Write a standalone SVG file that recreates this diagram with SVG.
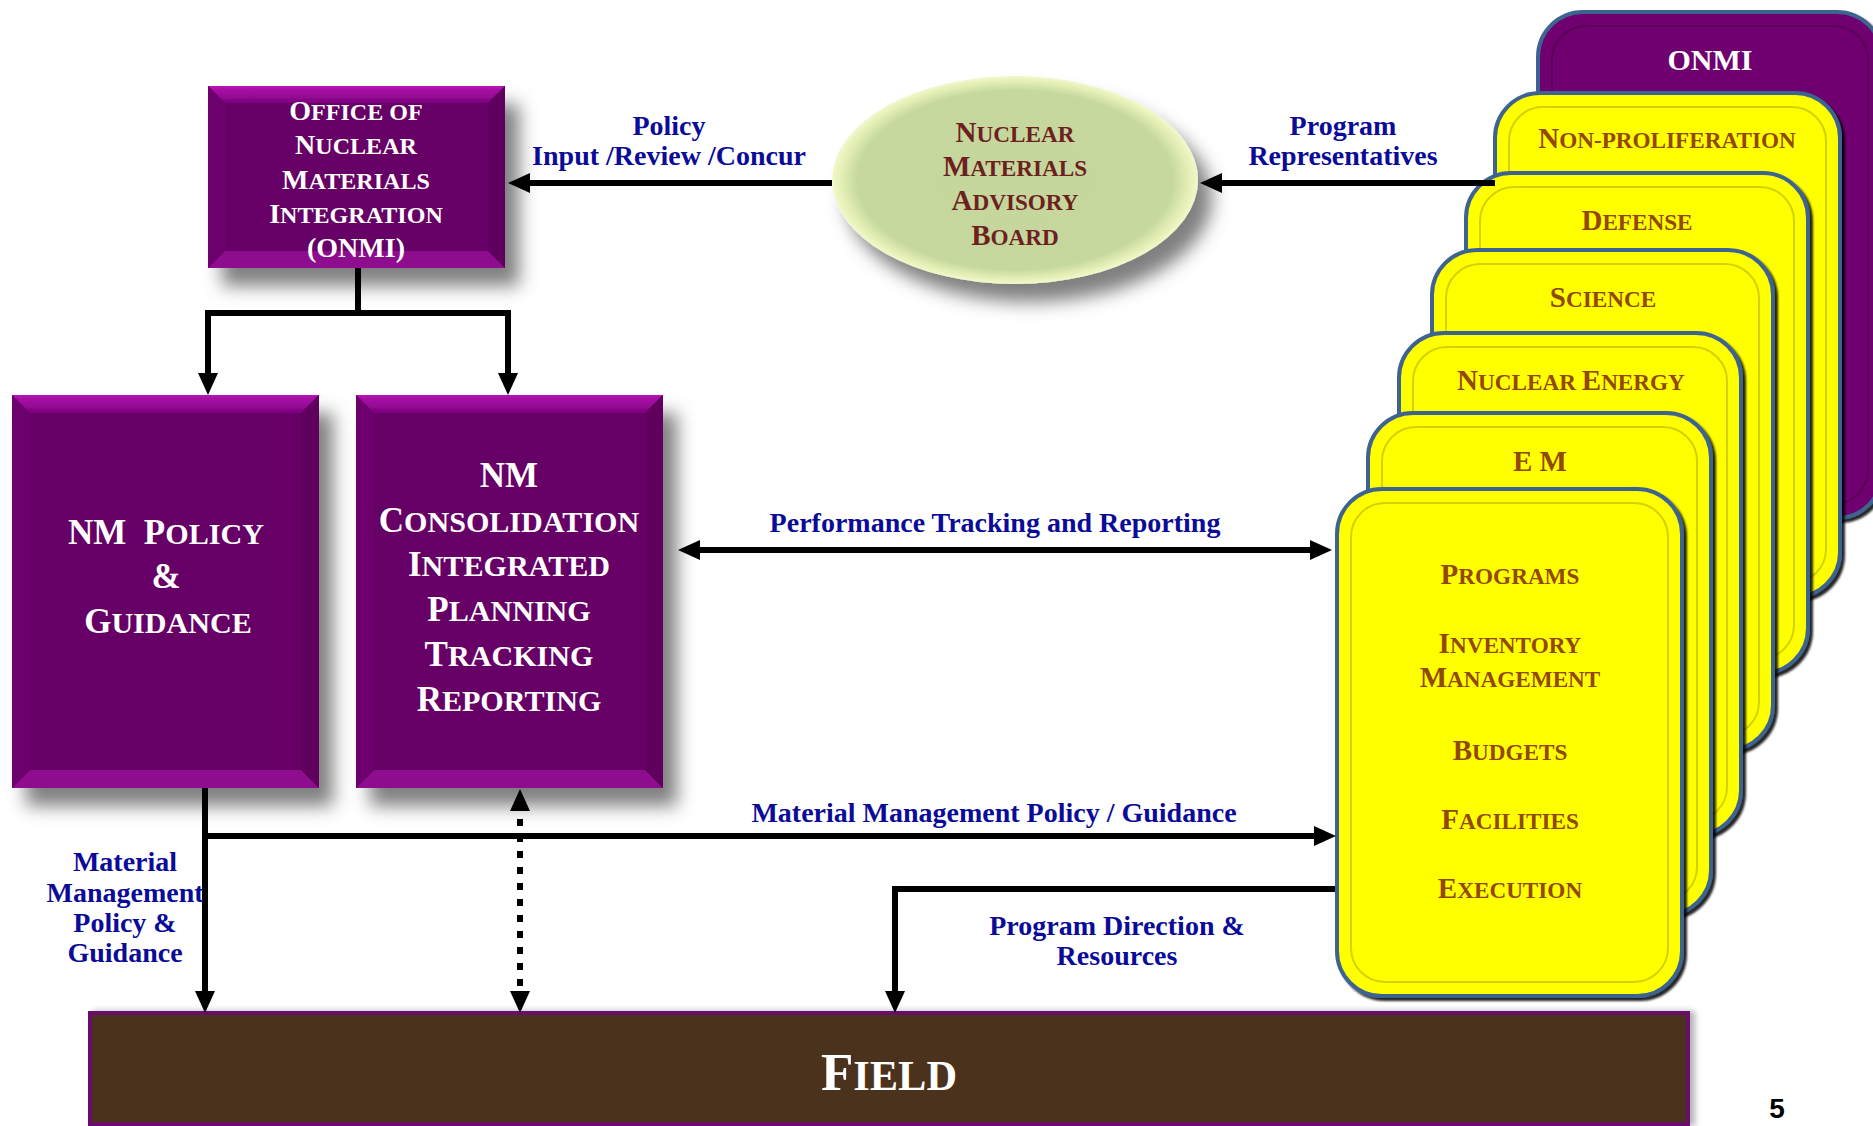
<svg xmlns="http://www.w3.org/2000/svg" width="1873" height="1126" viewBox="0 0 1873 1126">
<defs>
<style>
.w{font-family:"Liberation Serif","Times New Roman",serif;font-weight:bold;fill:#ffffff;text-anchor:middle}
.br{font-family:"Liberation Serif","Times New Roman",serif;font-weight:bold;fill:#924800;text-anchor:middle;font-size:29px}
.eb{font-family:"Liberation Serif","Times New Roman",serif;font-weight:bold;fill:#6e1f1f;text-anchor:middle;font-size:29px}
.lb{font-family:"Liberation Serif","Times New Roman",serif;font-weight:bold;fill:#0b0b99;text-anchor:middle;font-size:28px}
.s{font-size:80%}
.s2{font-size:86%}
.ln{fill:none;stroke:#000;stroke-width:6;stroke-linejoin:miter}
.bt{fill:url(#topg)}
.bb{fill:#8e0a8e}
.bl{fill:#6c006c}
.bR{fill:#5e005e}
.bi{fill:#660066}
.card{fill:#ffff00;stroke:#3e6390;stroke-width:4}
.cin{fill:none;stroke:#d2d200;stroke-width:2}
</style>
<linearGradient id="topg" x1="0" y1="0" x2="0" y2="1">
<stop offset="0" stop-color="#b414b4"/>
<stop offset="1" stop-color="#7e027e"/>
</linearGradient>
<radialGradient id="ellg" cx="0.5" cy="0.5" r="0.5">
<stop offset="0" stop-color="#c4d69b"/>
<stop offset="0.86" stop-color="#c6d89e"/>
<stop offset="0.95" stop-color="#e4efb5"/>
<stop offset="1" stop-color="#f2f8cc"/>
</radialGradient>
<filter id="sh" x="-20%" y="-20%" width="150%" height="150%">
<feDropShadow dx="14" dy="18" stdDeviation="9" flood-color="#000" flood-opacity="0.5"/>
</filter>
<filter id="csh" x="-10%" y="-10%" width="125%" height="125%">
<feDropShadow dx="3" dy="3" stdDeviation="1.3" flood-color="#000" flood-opacity="0.85"/>
</filter>
<filter id="fsh" x="-5%" y="-20%" width="110%" height="140%">
<feDropShadow dx="5" dy="0" stdDeviation="3" flood-color="#000" flood-opacity="0.3"/>
</filter>
<marker id="ah" viewBox="0 0 22 20" refX="8" refY="10" markerWidth="22" markerHeight="20" markerUnits="userSpaceOnUse" orient="auto-start-reverse">
<path d="M0,0 L22,10 L0,20 z" fill="#000"/>
</marker>
</defs>

<rect width="1873" height="1126" fill="#ffffff"/>

<g id="node-onmi-office">
<g filter="url(#sh)">
<rect x="208" y="86" width="297" height="182" fill="#7a007a"/>
<polygon class="bt" points="208,86 505,86 488,103 225,103"/>
<polygon class="bb" points="208,268 505,268 488,251 225,251"/>
<polygon class="bl" points="208,86 225,103 225,251 208,268"/>
<polygon class="bR" points="505,86 488,103 488,251 505,268"/>
<rect class="bi" x="225" y="103" width="263" height="148"/>
</g>
<text class="w" font-size="28" x="356" y="120">O<tspan class="s2">FFICE OF</tspan></text>
<text class="w" font-size="28" x="356" y="154">N<tspan class="s2">UCLEAR</tspan></text>
<text class="w" font-size="28" x="356" y="189">M<tspan class="s2">ATERIALS</tspan></text>
<text class="w" font-size="28" x="356" y="223">I<tspan class="s2">NTEGRATION</tspan></text>
<text class="w" font-size="28" x="356" y="257">(ONMI)</text>
</g>

<g id="node-nmab">
<ellipse cx="1015" cy="180" rx="183" ry="104" fill="url(#ellg)" filter="url(#sh)"/>
<text class="eb" x="1015" y="142">N<tspan class="s">UCLEAR</tspan></text>
<text class="eb" x="1015" y="176">M<tspan class="s">ATERIALS</tspan></text>
<text class="eb" x="1015" y="210">A<tspan class="s">DVISORY</tspan></text>
<text class="eb" x="1015" y="245">B<tspan class="s">OARD</tspan></text>
</g>

<g id="node-nm-policy">
<g filter="url(#sh)">
<rect x="12" y="395" width="307" height="393" fill="#7a007a"/>
<polygon class="bt" points="12,395 319,395 301,413 30,413"/>
<polygon class="bb" points="12,788 319,788 301,770 30,770"/>
<polygon class="bl" points="12,395 30,413 30,770 12,788"/>
<polygon class="bR" points="319,395 301,413 301,770 319,788"/>
<rect class="bi" x="30" y="413" width="271" height="357"/>
</g>
<text class="w" font-size="35" x="166" y="544">NM&#160; P<tspan class="s2">OLICY</tspan></text>
<text class="w" font-size="35" x="166" y="588">&amp;</text>
<text class="w" font-size="35" x="168" y="633">G<tspan class="s2">UIDANCE</tspan></text>
</g>

<g id="node-nm-consolidation">
<g filter="url(#sh)">
<rect x="356" y="395" width="307" height="393" fill="#7a007a"/>
<polygon class="bt" points="356,395 663,395 645,413 374,413"/>
<polygon class="bb" points="356,788 663,788 645,770 374,770"/>
<polygon class="bl" points="356,395 374,413 374,770 356,788"/>
<polygon class="bR" points="663,395 645,413 645,770 663,788"/>
<rect class="bi" x="374" y="413" width="271" height="357"/>
</g>
<text class="w" font-size="35" x="509" y="487">NM</text>
<text class="w" font-size="35" x="509" y="532">C<tspan class="s2">ONSOLIDATION</tspan></text>
<text class="w" font-size="35" x="509" y="576">I<tspan class="s2">NTEGRATED</tspan></text>
<text class="w" font-size="35" x="509" y="621">P<tspan class="s2">LANNING</tspan></text>
<text class="w" font-size="35" x="509" y="666">T<tspan class="s2">RACKING</tspan></text>
<text class="w" font-size="35" x="509" y="711">R<tspan class="s2">EPORTING</tspan></text>
</g>

<g id="node-card-onmi">
<rect x="1538" y="12" width="344" height="506" rx="45" fill="#700070" stroke="#3e6390" stroke-width="4" filter="url(#csh)"/>
<rect x="1552" y="26" width="316" height="478" rx="34" fill="none" stroke="#5a005a" stroke-width="2"/>
<text class="w" font-size="30" x="1710" y="70">ONMI</text>
</g>

<g id="node-card-nonproliferation">
<rect class="card" x="1495" y="93" width="345" height="504" rx="45" filter="url(#csh)"/>
<rect class="cin" x="1509" y="107" width="317" height="476" rx="34"/>
<text class="br" x="1667" y="148">N<tspan class="s">ON-PROLIFERATION</tspan></text>
</g>

<g id="node-card-defense">
<rect class="card" x="1466" y="173" width="342" height="500" rx="45" filter="url(#csh)"/>
<rect class="cin" x="1480" y="187" width="314" height="472" rx="34"/>
<text class="br" x="1637" y="230">D<tspan class="s">EFENSE</tspan></text>
</g>

<g id="node-card-science">
<rect class="card" x="1432" y="250" width="341" height="500" rx="45" filter="url(#csh)"/>
<rect class="cin" x="1446" y="264" width="313" height="472" rx="34"/>
<text class="br" x="1603" y="307">S<tspan class="s">CIENCE</tspan></text>
</g>

<g id="node-card-nuclear-energy">
<rect class="card" x="1399" y="333" width="342" height="502" rx="45" filter="url(#csh)"/>
<rect class="cin" x="1413" y="347" width="314" height="474" rx="34"/>
<text class="br" x="1571" y="390">N<tspan class="s">UCLEAR </tspan>E<tspan class="s">NERGY</tspan></text>
</g>

<g id="node-card-em">
<rect class="card" x="1368" y="413" width="343" height="502" rx="45" filter="url(#csh)"/>
<rect class="cin" x="1382" y="427" width="315" height="474" rx="34"/>
<text class="br" x="1540" y="471">E M</text>
</g>

<g id="node-card-programs">
<rect class="card" x="1337" y="489" width="345" height="507" rx="45" filter="url(#csh)"/>
<rect class="cin" x="1351" y="503" width="317" height="479" rx="34"/>
<text class="br" x="1510" y="584">P<tspan class="s">ROGRAMS</tspan></text>
<text class="br" x="1510" y="653">I<tspan class="s">NVENTORY</tspan></text>
<text class="br" x="1510" y="687">M<tspan class="s">ANAGEMENT</tspan></text>
<text class="br" x="1510" y="760">B<tspan class="s">UDGETS</tspan></text>
<text class="br" x="1510" y="829">F<tspan class="s">ACILITIES</tspan></text>
<text class="br" x="1510" y="898">E<tspan class="s">XECUTION</tspan></text>
</g>

<g id="node-field">
<rect x="90" y="1013" width="1598" height="111" fill="#4b331b" stroke="#6a0a6a" stroke-width="4" filter="url(#fsh)"/>
<text class="w" font-size="53" x="889" y="1090">F<tspan class="s">IELD</tspan></text>
</g>

<g id="connectors">
<path class="ln" d="M832,183 H522" marker-end="url(#ah)"/>
<path class="ln" d="M1495,183 H1214" marker-end="url(#ah)"/>
<path class="ln" d="M358,268 V313"/>
<path class="ln" d="M361,313 H208 V381" marker-end="url(#ah)"/>
<path class="ln" d="M355,313 H508 V381" marker-end="url(#ah)"/>
<path class="ln" d="M692,550 H1318" marker-start="url(#ah)" marker-end="url(#ah)"/>
<path class="ln" d="M202,836 H1322" marker-end="url(#ah)"/>
<path class="ln" d="M205,788 V999" marker-end="url(#ah)"/>
<path class="ln" d="M520,803 V999" stroke-dasharray="7 9" marker-start="url(#ah)" marker-end="url(#ah)"/>
<path class="ln" d="M1335,889 H895 V999" marker-end="url(#ah)"/>
<text class="lb" x="669" y="135">Policy</text>
<text class="lb" x="669" y="165">Input /Review /Concur</text>
<text class="lb" x="1343" y="135">Program</text>
<text class="lb" x="1343" y="165">Representatives</text>
<text class="lb" x="995" y="532">Performance Tracking and Reporting</text>
<text class="lb" x="994" y="822">Material Management Policy / Guidance</text>
<text class="lb" x="1117" y="935">Program Direction &amp;</text>
<text class="lb" x="1117" y="965">Resources</text>
<text class="lb" x="125" y="871">Material</text>
<text class="lb" x="125" y="902">Management</text>
<text class="lb" x="125" y="932">Policy &amp;</text>
<text class="lb" x="125" y="962">Guidance</text>
</g>

<text x="1777" y="1118" font-family="'Liberation Sans',Arial,sans-serif" font-weight="bold" font-size="28" text-anchor="middle" fill="#000">5</text>
</svg>
